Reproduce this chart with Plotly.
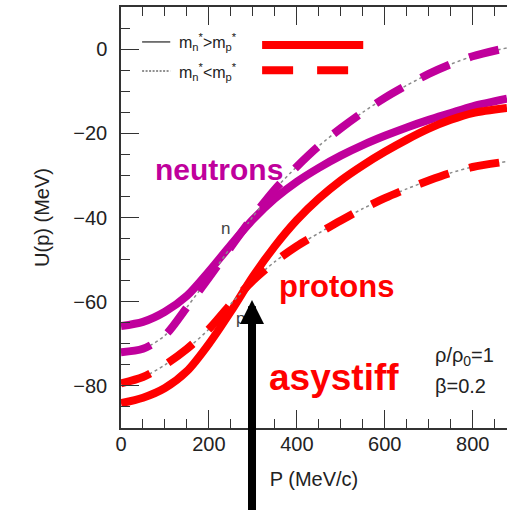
import plotly.graph_objects as go

# momentum grid (MeV/c)
p = [0, 50, 100, 150, 200, 250, 300, 350, 400, 450, 500, 550, 600, 650, 700, 750, 800, 878]

# U(p) in MeV
neutron_solid = [-65.8, -64.8, -62.4, -58.6, -52.8, -46.5, -40.5, -35.5, -31.5, -28.2, -25.3,
                 -22.8, -20.6, -18.6, -16.8, -15.2, -13.6, -11.8]
neutron_dashed = [-72.0, -71.2, -68.0, -61.3, -54.3, -47.0, -39.8, -33.3, -27.9, -23.0, -18.8,
                  -15.0, -11.6, -8.6, -5.9, -3.6, -1.7, 0.3]
proton_solid = [-84.1, -82.8, -80.5, -76.5, -70.0, -62.3, -54.0, -46.8, -40.6, -35.5, -31.2,
                -27.6, -24.4, -21.5, -18.9, -16.8, -15.2, -14.0]
proton_dashed = [-79.4, -77.9, -75.0, -71.2, -66.5, -60.5, -55.0, -50.5, -46.8, -43.7, -40.7,
                 -37.9, -35.4, -33.2, -31.2, -29.4, -28.0, -26.7]

x_ticks = [0, 200, 400, 600, 800]
y_ticks = [0, -20, -40, -60, -80]

MAG = "#c0009c"
RED = "#ff0000"
GRAY = "#8a8a8a"
FONT = "Liberation Sans, Arial, sans-serif"

fig = go.Figure()

# solid curves (m_n* > m_p*)
fig.add_trace(go.Scatter(x=p, y=neutron_solid, mode="lines", line=dict(color=MAG, width=8, shape="spline", smoothing=0.8)))
fig.add_trace(go.Scatter(x=p, y=proton_solid, mode="lines", line=dict(color=RED, width=8, shape="spline", smoothing=0.8)))
# thin dotted lines beneath dashed curves
fig.add_trace(go.Scatter(x=p, y=neutron_dashed, mode="lines", line=dict(color=GRAY, width=1.5, dash="dot", shape="spline", smoothing=0.8)))
fig.add_trace(go.Scatter(x=p, y=proton_dashed, mode="lines", line=dict(color=GRAY, width=1.5, dash="dot", shape="spline", smoothing=0.8)))
# dashed curves (m_n* < m_p*)
fig.add_trace(go.Scatter(x=p, y=neutron_dashed, mode="lines", line=dict(color=MAG, width=8, dash="31px,21px", shape="spline", smoothing=0.8)))
fig.add_trace(go.Scatter(x=p, y=proton_dashed, mode="lines", line=dict(color=RED, width=8, dash="31px,21px", shape="spline", smoothing=0.8)))

# legend keys
fig.add_shape(type="line", x0=48, x1=112, y0=1.7, y1=1.7, line=dict(color="#222", width=1.2))
fig.add_shape(type="line", x0=48, x1=112, y0=-5.2, y1=-5.2, line=dict(color="#222", width=1.2, dash="2px,1.5px"))
fig.add_shape(type="line", x0=321, x1=551, y0=1.0, y1=1.0, line=dict(color=RED, width=8))
fig.add_shape(type="line", x0=321, x1=519, y0=-5.0, y1=-5.0, line=dict(color=RED, width=8, dash="31px,24px"))

ann = [
    dict(x=127, y=1.7, text="m<sub>n</sub><sup>*</sup>&gt;m<sub>p</sub><sup>*</sup>", xanchor="left", size=16, color="#222"),
    dict(x=127, y=-5.4, text="m<sub>n</sub><sup>*</sup>&lt;m<sub>p</sub><sup>*</sup>", xanchor="left", size=16, color="#222"),
    dict(x=223, y=-28.7, text="<b>neutrons</b>", xanchor="center", size=30, color=MAG),
    dict(x=490, y=-56.5, text="<b>protons</b>", xanchor="center", size=31, color=RED),
    dict(x=485, y=-77.9, text="<b>asystiff</b>", xanchor="center", size=37, color=RED),
    dict(x=710, y=-73.0, text="ρ/ρ<sub>0</sub>=1", xanchor="left", size=20, color="#222"),
    dict(x=710, y=-80.0, text="β=0.2", xanchor="left", size=20, color="#222"),
    dict(x=237, y=-42.5, text="n", xanchor="center", size=17, color="#444"),
    dict(x=271, y=-64.0, text="p", xanchor="center", size=17, color="#444"),
]
for a in ann:
    fig.add_annotation(x=a["x"], y=a["y"], text=a["text"], xanchor=a["xanchor"], yanchor="middle",
                       showarrow=False, font=dict(family=FONT, size=a["size"], color=a["color"]))

# arrow
fig.add_annotation(x=298, y=-59.6, ax=298, ay=-115, axref="x", ayref="y", text="",
                   showarrow=True, arrowhead=2, arrowsize=0.6, arrowwidth=8, arrowcolor="#000")

axis_common = dict(
    showgrid=False, zeroline=False, showline=True, linecolor="#333", linewidth=1.5,
    ticks="inside", ticklen=18, tickwidth=1.3, tickcolor="#333",
    tickfont=dict(family=FONT, size=20, color="#222"),
)

fig.update_layout(
    width=507, height=510,
    margin=dict(l=121, r=0, t=7, b=82),
    paper_bgcolor="white", plot_bgcolor="white",
    showlegend=False,
    font=dict(family=FONT),
    xaxis=dict(range=[0, 878], tickvals=x_ticks, mirror="ticks",
               minor=dict(dtick=50, tick0=0, ticks="inside", ticklen=9, tickwidth=1.2, tickcolor="#333"),
               title=dict(text="P (MeV/c)", font=dict(family=FONT, size=20, color="#222"), standoff=18),
               ticklabelstandoff=-3,
               **axis_common),
    yaxis=dict(range=[-90, 10], tickvals=y_ticks, mirror=False,
               minor=dict(dtick=5, tick0=0, ticks="inside", ticklen=9, tickwidth=1.2, tickcolor="#333"),
               title=dict(text="U(p) (MeV)", font=dict(family=FONT, size=20, color="#222"), standoff=18),
               ticklabelstandoff=8,
               **axis_common),
)

fig.write_html("out.html")
